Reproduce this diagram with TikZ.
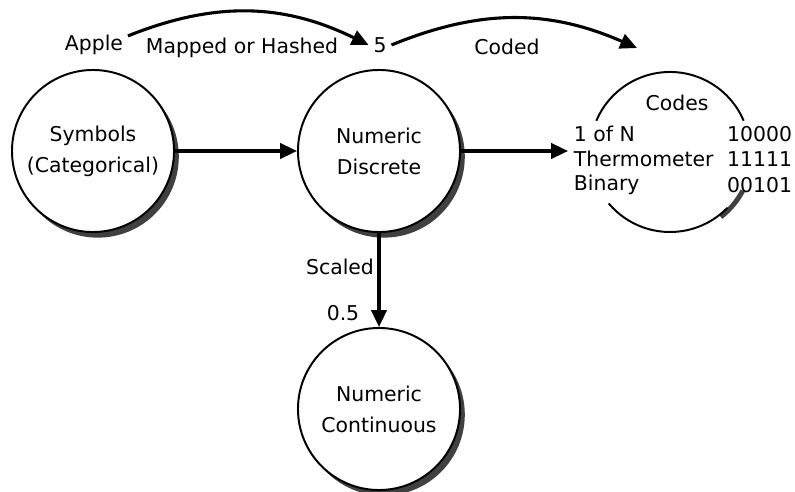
\documentclass[tikz,border=0pt]{standalone}
\usepackage{fontspec}
\setmainfont{DejaVu Sans}
\usetikzlibrary{arrows.meta}
\begin{document}
\begin{tikzpicture}[x=0.025cm,y=-0.025cm,every node/.style={font=\fontsize{14.5}{17}\selectfont},
    ball/.style={draw,circle,line width=1.4pt,fill=white,minimum size=4.05cm,inner sep=0pt,align=center,
      font=\fontsize{14.5}{22}\selectfont,preaction={fill=black!75,transform canvas={xshift=3.4pt,yshift=-4pt}}},
    flow/.style={-{Triangle[length=4.2mm,width=3.8mm]},line width=2.2pt}]
  \useasboundingbox (0,0) rectangle (795,492);
  \node[ball] (sym) at (93,151) {Symbols\\(Categorical)};
  \node[ball] (disc) at (379,151) {Numeric\\Discrete};
  \node[ball] (cont) at (379,409) {Numeric\\Continuous};
  \node[circle,minimum size=4cm,inner sep=0pt,outer sep=0pt] (codes) at (670,152) {};
  \draw[black!75,line width=3.5pt] ([shift={(-28:2.06cm)}]codes.center) arc[start angle=-28,end angle=-52,radius=2.06cm];
  \draw[line width=1.4pt] (codes.157) arc[start angle=157,end angle=23,radius=2cm];
  \draw[line width=1.4pt] (codes.220) arc[start angle=220,end angle=316,radius=2cm];
  \node (codestitle) at (677,103) {Codes};
  \node[anchor=west] (onen) at (569,134) {1 of N};
  \node[anchor=west] (thermo) at (569,159) {Thermometer};
  \node[anchor=west] (binary) at (569,185) {Binary};
  \node[anchor=east] (onenval) at (797,134) {10000};
  \node[anchor=east] (thermoval) at (797,159) {11111};
  \node[anchor=east] (binaryval) at (797,185) {00101};
  \node (apple) at (94,45) {Apple};
  \node (maplbl) at (242,48) {Mapped or Hashed};
  \node (five) at (380,45) {5};
  \node (codedlbl) at (507,47) {Coded};
  \coordinate (codedend) at (637,48);
  \coordinate (codesin) at (568,151);
  \node (scaled) at (340,267) {Scaled};
  \node (half) at (343,313) {0.5};
  \draw[flow] (apple.15) to[bend left=24] (five.west);
  \draw[flow] (five.east) to[bend left=23] (codedend);
  \draw[flow] (sym) -- (disc);
  \draw[flow] (disc) -- (codesin);
  \draw[flow] (disc) -- (cont);
\end{tikzpicture}
\end{document}
